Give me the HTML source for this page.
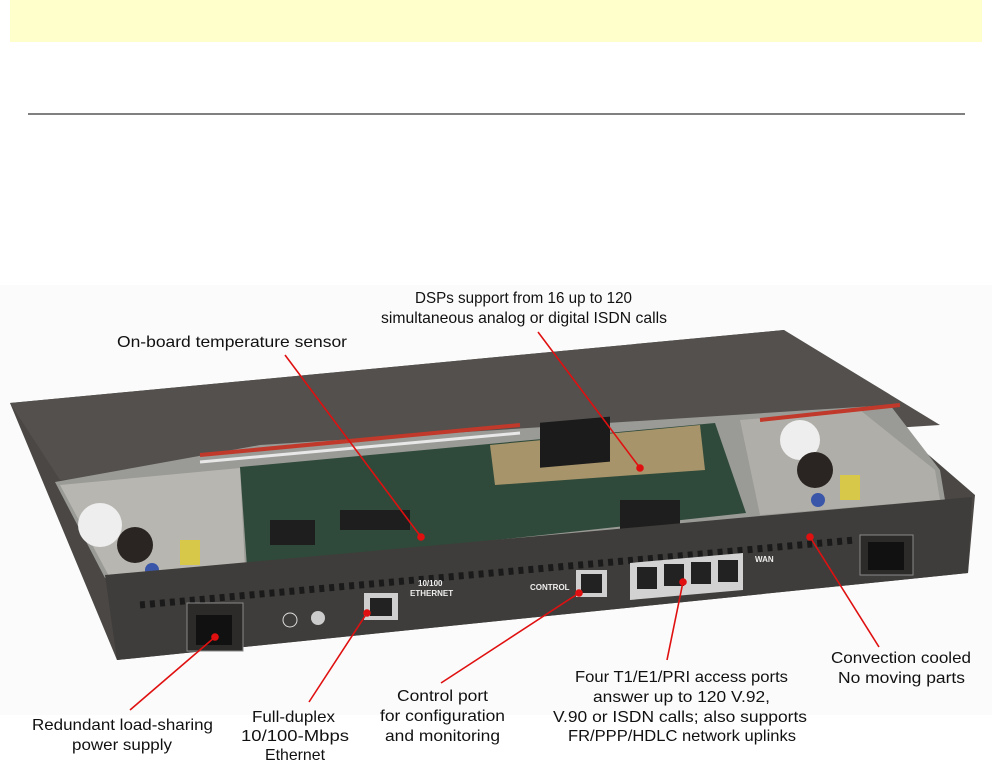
<!DOCTYPE html>
<html><head><meta charset="utf-8"><style>
html,body{margin:0;padding:0;background:#fff;width:992px;height:764px;overflow:hidden}
svg{display:block}
text{font-family:"Liberation Sans Narrow","Liberation Sans",sans-serif;font-size:16px;fill:#111}
</style></head><body>
<svg width="992" height="764" viewBox="0 0 992 764" xmlns="http://www.w3.org/2000/svg">
<rect x="10" y="0" width="972" height="42" fill="#ffffcc"/>
<line x1="28" y1="114" x2="965" y2="114" stroke="#000" stroke-width="1"/>
<rect x="0" y="285" width="992" height="430" fill="#fbfbfb"/>
<!-- body -->
<polygon points="10,403 784,330 975,495 968,573 117,660" fill="#4a4744"/>
<polygon points="10,403 784,330 940,425 60,480" fill="#53504d"/>
<!-- cavity -->
<polygon points="55,482 260,445 890,405 940,470 945,500 150,590 105,578" fill="#9a9a96"/>
<polygon points="60,485 240,468 245,568 110,578" fill="#b8b6b0"/>
<polygon points="860,410 935,470 940,500 760,515 740,420" fill="#b0aea8"/>
<polygon points="240,467 715,423 746,513 247,567" fill="#2f4a3a"/>
<polygon points="490,445 700,425 705,470 495,485" fill="#a8946a"/>
<rect x="540" y="470" width="70" height="45" fill="#1b1b1b" transform="skewY(-5)"/>
<rect x="340" y="510" width="70" height="20" fill="#1e1e1e"/>
<rect x="270" y="520" width="45" height="25" fill="#1e1e1e"/>
<rect x="620" y="500" width="60" height="30" fill="#1e1e1e"/>
<path d="M200,455 L520,425" stroke="#c0392b" stroke-width="4"/>
<path d="M200,462 L520,433" stroke="#e8e8e8" stroke-width="3"/>
<path d="M760,420 L900,405" stroke="#c0392b" stroke-width="4"/>
<circle cx="100" cy="525" r="22" fill="#eee"/>
<circle cx="135" cy="545" r="18" fill="#2a2522"/>
<circle cx="800" cy="440" r="20" fill="#eee"/>
<circle cx="815" cy="470" r="18" fill="#2a2522"/>
<rect x="180" y="540" width="20" height="25" fill="#d8c84a"/>
<rect x="840" y="475" width="20" height="25" fill="#d8c84a"/>
<circle cx="152" cy="570" r="7" fill="#3a56a8"/>
<circle cx="818" cy="500" r="7" fill="#3a56a8"/>
<!-- front panel -->
<polygon points="105,575 972,497 968,573 117,660" fill="#3f3d3b"/>
<line x1="140" y1="605" x2="855" y2="540" stroke="#1a1a1a" stroke-width="7" stroke-dasharray="5,5"/>
<rect x="187" y="603" width="56" height="48" fill="#2d2b29" stroke="#888" stroke-width="1"/>
<rect x="860" y="535" width="53" height="40" fill="#2d2b29" stroke="#888" stroke-width="1"/>
<rect x="196" y="615" width="36" height="30" fill="#111"/>
<rect x="868" y="542" width="36" height="28" fill="#111"/>
<circle cx="290" cy="620" r="7" fill="none" stroke="#ddd"/>
<circle cx="318" cy="618" r="7" fill="#ccc"/>
<rect x="364" y="593" width="34" height="27" fill="#cfcfcf"/>
<rect x="370" y="598" width="22" height="18" fill="#222"/>
<rect x="576" y="570" width="31" height="27" fill="#cfcfcf"/>
<rect x="581" y="574" width="21" height="19" fill="#222"/>
<polygon points="630,563 743,553 743,590 630,600" fill="#d2d2d2"/>
<rect x="637" y="567" width="20" height="22" fill="#222"/>
<rect x="664" y="564" width="20" height="22" fill="#222"/>
<rect x="691" y="562" width="20" height="22" fill="#222"/>
<rect x="718" y="560" width="20" height="22" fill="#222"/>
<text x="418" y="586" style="font-size:8px;fill:#eee;font-weight:bold">10/100</text>
<text x="410" y="596" style="font-size:8px;fill:#eee;font-weight:bold">ETHERNET</text>
<text x="530" y="590" style="font-size:8px;fill:#eee;font-weight:bold">CONTROL</text>
<text x="755" y="562" style="font-size:8px;fill:#eee;font-weight:bold">WAN</text>
<!-- red leaders -->
<g stroke="#e01010" stroke-width="1.6" fill="#e01010">
<line x1="285" y1="355" x2="421" y2="537"/><circle cx="421" cy="537" r="3"/>
<line x1="538" y1="332" x2="640" y2="468"/><circle cx="640" cy="468" r="3"/>
<line x1="879" y1="647" x2="810" y2="537"/><circle cx="810" cy="537" r="3"/>
<line x1="667" y1="660" x2="683" y2="582"/><circle cx="683" cy="582" r="3"/>
<line x1="441" y1="683" x2="579" y2="593"/><circle cx="579" cy="593" r="3"/>
<line x1="309" y1="702" x2="367" y2="613"/><circle cx="367" cy="613" r="3"/>
<line x1="130" y1="710" x2="215" y2="637"/><circle cx="215" cy="637" r="3"/>
</g>
<!-- labels -->
<text x="415" y="303" textLength="217" lengthAdjust="spacingAndGlyphs">DSPs support from 16 up to 120</text>
<text x="381" y="323" textLength="286" lengthAdjust="spacingAndGlyphs">simultaneous analog or digital ISDN calls</text>
<text x="117" y="347" textLength="230" lengthAdjust="spacingAndGlyphs">On-board temperature sensor</text>
<text x="831" y="663" textLength="140" lengthAdjust="spacingAndGlyphs">Convection cooled</text>
<text x="838" y="683" textLength="127" lengthAdjust="spacingAndGlyphs">No moving parts</text>
<text x="575" y="682" textLength="213" lengthAdjust="spacingAndGlyphs">Four T1/E1/PRI access ports</text>
<text x="593" y="702" textLength="177" lengthAdjust="spacingAndGlyphs">answer up to 120 V.92,</text>
<text x="553" y="722" textLength="254" lengthAdjust="spacingAndGlyphs">V.90 or ISDN calls; also supports</text>
<text x="568" y="741" textLength="228" lengthAdjust="spacingAndGlyphs">FR/PPP/HDLC network uplinks</text>
<text x="397" y="701" textLength="91" lengthAdjust="spacingAndGlyphs">Control port</text>
<text x="380" y="721" textLength="125" lengthAdjust="spacingAndGlyphs">for configuration</text>
<text x="385" y="741" textLength="115" lengthAdjust="spacingAndGlyphs">and monitoring</text>
<text x="252" y="722" textLength="83" lengthAdjust="spacingAndGlyphs">Full-duplex</text>
<text x="241" y="741" textLength="108" lengthAdjust="spacingAndGlyphs">10/100-Mbps</text>
<text x="265" y="760" textLength="60" lengthAdjust="spacingAndGlyphs">Ethernet</text>
<text x="32" y="730" textLength="181" lengthAdjust="spacingAndGlyphs">Redundant load-sharing</text>
<text x="72" y="750" textLength="100" lengthAdjust="spacingAndGlyphs">power supply</text>
</svg>
</body></html>
